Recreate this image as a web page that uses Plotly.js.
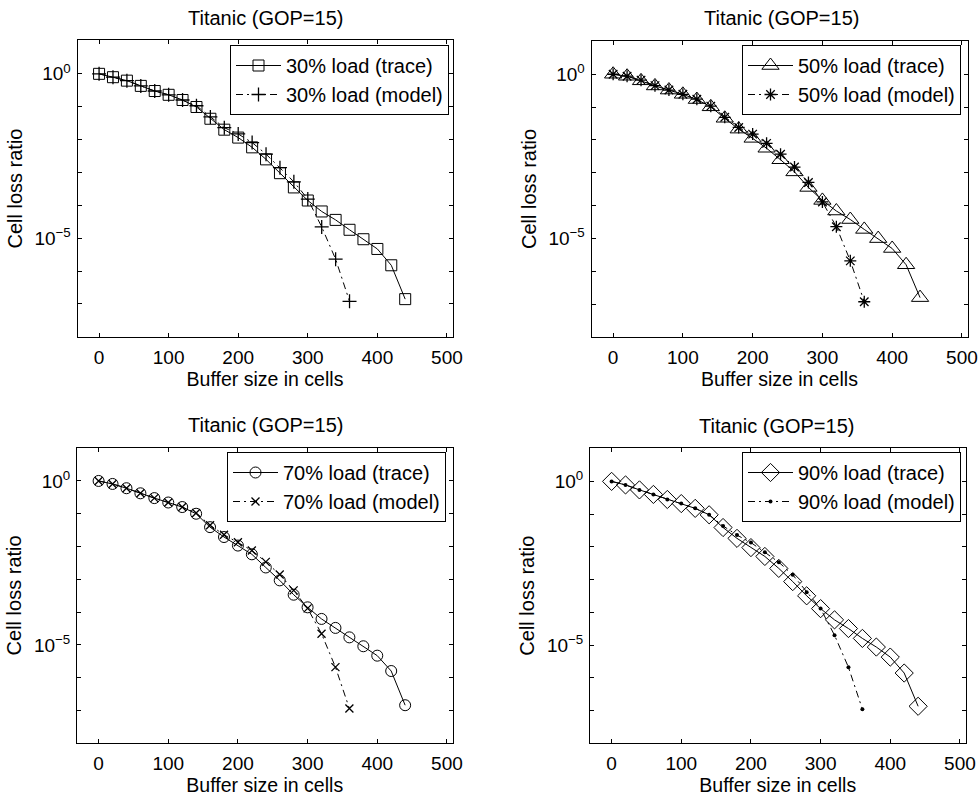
<!DOCTYPE html>
<html>
<head>
<meta charset="utf-8">
<script src="https://cdn.plot.ly/plotly-3.0.1.min.js"></script>
<style>html,body{margin:0;padding:0;background:#fff;} #chart{width:978px;height:796px;}</style>
</head>
<body>
<div id="chart"></div>
<script>
// ---- Data ----
const chartTitle = "Titanic (GOP=15)";
const xAxisTitle = "Buffer size in cells";
const yAxisTitle = "Cell loss ratio";

const bufferTrace = [0, 20, 40, 60, 80, 100, 120, 140, 160, 180, 200, 220, 240, 260, 280, 300, 320, 340, 360, 380, 400, 420, 440];
const bufferModel = [0, 20, 40, 60, 80, 100, 120, 140, 160, 180, 200, 220, 240, 260, 280, 300, 320, 340, 360];

const load30Trace = [1, 0.79, 0.62, 0.43, 0.30, 0.23, 0.16, 0.098, 0.043, 0.020, 0.0115, 0.0058, 0.0025, 9.5e-4, 3.5e-4, 1.4e-4, 6.5e-5, 3.6e-5, 1.8e-5, 9.3e-6, 4.7e-6, 1.5e-6, 1.4e-7];
const load30Model = [1, 0.79, 0.62, 0.43, 0.30, 0.23, 0.16, 0.107, 0.049, 0.023, 0.0148, 0.0081, 0.0036, 0.0014, 5.2e-4, 1.55e-4, 2.2e-5, 2.3e-6, 1.2e-7];

const load50Trace = [1, 0.87, 0.63, 0.44, 0.33, 0.245, 0.17, 0.102, 0.0457, 0.0214, 0.0112, 0.0056, 0.0025, 0.00107, 3.6e-4, 1.45e-4, 6.9e-5, 3.8e-5, 1.9e-5, 1.0e-5, 5.0e-6, 1.6e-6, 1.6e-7];
const load50Model = [1, 0.87, 0.66, 0.45, 0.33, 0.245, 0.174, 0.107, 0.049, 0.024, 0.0151, 0.0079, 0.0037, 0.0015, 5.1e-4, 1.3e-4, 2.3e-5, 2.1e-6, 1.2e-7];

const load70Trace = [1, 0.81, 0.60, 0.42, 0.30, 0.22, 0.16, 0.10, 0.039, 0.0195, 0.0107, 0.0058, 0.0023, 9.3e-4, 3.4e-4, 1.4e-4, 6.2e-5, 3.3e-5, 1.7e-5, 9.1e-6, 4.7e-6, 1.6e-6, 1.45e-7];
const load70Model = [1, 0.81, 0.60, 0.42, 0.30, 0.22, 0.16, 0.105, 0.0447, 0.0229, 0.0135, 0.0076, 0.0034, 0.0014, 4.6e-4, 1.3e-4, 2.2e-5, 2.1e-6, 1.15e-7];

const load90Trace = [1, 0.78, 0.55, 0.40, 0.28, 0.21, 0.15, 0.0955, 0.039, 0.0182, 0.0095, 0.0051, 0.0022, 8.7e-4, 3.2e-4, 1.3e-4, 5.9e-5, 3.2e-5, 1.6e-5, 8.7e-6, 4.3e-6, 1.4e-6, 1.35e-7];
const load90Model = [1, 0.78, 0.55, 0.40, 0.28, 0.21, 0.15, 0.0955, 0.0437, 0.0229, 0.0135, 0.0068, 0.0034, 0.0014, 4.1e-4, 1.3e-4, 2.0e-5, 2.1e-6, 1.1e-7];

const traceNames = ["30% load (trace)", "50% load (trace)", "70% load (trace)", "90% load (trace)"];
const modelNames = ["30% load (model)", "50% load (model)", "70% load (model)", "90% load (model)"];

const xTickVals = [0, 100, 200, 300, 400, 500];
const yTickVals = [1, 1e-5];
const yTickText = ["10<sup>0</sup>", "10<sup>\u22125</sup>"];
const yMinorTickVals = [1e-1, 1e-2, 1e-3, 1e-4, 1e-6, 1e-7];

// ---- Styling / layout ----
const W = 978, H = 796;
const FONT = "Liberation Sans, Arial, Helvetica, sans-serif";
const ink = "#000";

const panels = [
  {xd: [77.5, 452.5], yd: [40.3, 336.8], trace: load30Trace, model: load30Model,
   tSym: "square-open", tSize: 11, mSym: "cross-thin-open", mSize: 10, mLW: 1.3, mColor: ink,
   legendRight: 449, legendTop: 45, titleX: 265.5, titleY: 18},
  {xd: [591.5, 967.5], yd: [40.7, 337.2], trace: load50Trace, model: load50Model,
   tSym: "triangle-up-open", tSize: 15, mSym: "asterisk-open", mSize: 10, mLW: 1.3, mColor: ink,
   legendRight: 961, legendTop: 45, titleX: 781, titleY: 18},
  {xd: [77, 452.5], yd: [447.5, 743.3], trace: load70Trace, model: load70Model,
   tSym: "circle-open", tSize: 11, mSym: "x-thin-open", mSize: 8, mLW: 1.3, mColor: ink,
   legendRight: 446, legendTop: 452, titleX: 265.5, titleY: 425},
  {xd: [590, 965.5], yd: [448, 743.3], trace: load90Trace, model: load90Model,
   tSym: "diamond-open", tSize: 14, mSym: "circle", mSize: 4, mLW: 0, mColor: ink,
   legendRight: 961, legendTop: 452, titleX: 776, titleY: 426}
];

const data = [];
const layout = {
  width: W, height: H,
  margin: {l: 0, r: 0, t: 0, b: 0},
  paper_bgcolor: "#fff", plot_bgcolor: "#fff",
  font: {family: FONT, size: 20, color: ink},
  showlegend: true,
  annotations: []
};

panels.forEach((p, i) => {
  const n = i + 1;
  const sfx = n === 1 ? "" : String(n);
  const legName = "legend" + sfx;
  data.push({
    x: bufferTrace, y: p.trace, name: traceNames[i],
    xaxis: "x" + sfx, yaxis: "y" + sfx, legend: legName,
    type: "scatter", mode: "lines+markers",
    line: {color: ink, width: 1},
    marker: {symbol: p.tSym, size: p.tSize, color: ink, line: {width: 1, color: ink}}
  });
  data.push({
    x: bufferModel, y: p.model, name: modelNames[i],
    xaxis: "x" + sfx, yaxis: "y" + sfx, legend: legName,
    type: "scatter", mode: "lines+markers",
    line: {color: ink, width: 1, dash: "7px,4px,2px,4px"},
    marker: {symbol: p.mSym, size: p.mSize, color: p.mColor, line: {width: p.mLW, color: ink}}
  });
  layout["xaxis" + sfx] = {
    domain: [p.xd[0] / W, p.xd[1] / W],
    anchor: "y" + sfx,
    range: [-31, 508],
    tickvals: xTickVals,
    ticks: "inside", ticklen: 4, tickwidth: 1, tickcolor: ink,
    showline: true, linecolor: ink, linewidth: 1, mirror: "ticks",
    showgrid: false, zeroline: false,
    tickfont: {family: FONT, size: 19, color: ink},
    ticklabelstandoff: 3,
    title: {text: xAxisTitle, font: {family: FONT, size: 19.5, color: ink}, standoff: 0}
  };
  layout["yaxis" + sfx] = {
    domain: [1 - p.yd[1] / H, 1 - p.yd[0] / H],
    anchor: "x" + sfx,
    type: "log",
    range: [-8, 1.02],
    tickvals: yTickVals, ticktext: yTickText,
    ticks: "inside", ticklen: 4, tickwidth: 1, tickcolor: ink,
    minor: {tickvals: yMinorTickVals, ticks: "inside", ticklen: 4, tickwidth: 1, tickcolor: ink, showgrid: false},
    showline: true, linecolor: ink, linewidth: 1, mirror: "ticks",
    showgrid: false, zeroline: false,
    tickfont: {family: FONT, size: 19, color: ink},
    ticklabelstandoff: 2,
    title: {text: yAxisTitle, font: {family: FONT, size: 20, color: ink}, standoff: 6}
  };
  layout[legName] = {
    x: p.legendRight / W, y: 1 - p.legendTop / H,
    xanchor: "right", yanchor: "top",
    xref: "paper", yref: "paper",
    bgcolor: "#fff", bordercolor: ink, borderwidth: 1,
    font: {family: FONT, size: 20, color: ink},
    tracegroupgap: 0, itemwidth: 45
  };
  layout.annotations.push({
    text: chartTitle, xref: "paper", yref: "paper",
    x: p.titleX / W, y: 1 - p.titleY / H,
    xanchor: "center", yanchor: "middle", showarrow: false,
    font: {family: FONT, size: 20, color: ink}
  });
});

Plotly.newPlot("chart", data, layout, {staticPlot: true, displayModeBar: false});
</script>
</body>
</html>
